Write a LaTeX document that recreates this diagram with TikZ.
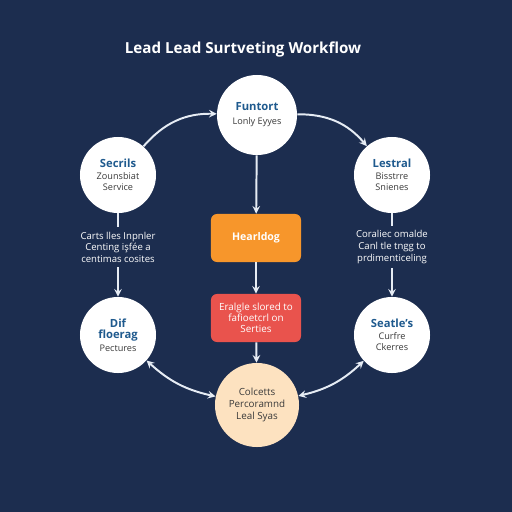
\documentclass[tikz,border=0pt]{standalone}
\usepackage{fontspec}
\setmainfont{Open Sans}
\usetikzlibrary{graphs}
\usetikzlibrary{quotes}

\definecolor{navy}{HTML}{1C2D4F}
\definecolor{headblue}{HTML}{1F5A8E}
\definecolor{textgray}{HTML}{3A3A3A}
\definecolor{flowgray}{HTML}{E6ECF4}
\definecolor{boxorange}{HTML}{F7962B}
\definecolor{boxred}{HTML}{E9534D}
\definecolor{peach}{HTML}{FDE2C0}

\tikzset{
  stage/.style={circle, fill=white, text=textgray, align=center,
    minimum size=1.9cm, inner sep=0pt, font=\fontsize{6.5}{8}\selectfont},
  stagebig/.style={stage, minimum size=2cm},
  stagegoal/.style={stage, fill=peach, minimum size=2.1cm,
    font=\fontsize{7}{8.6}\selectfont},
  taskbox/.style={rectangle, rounded corners=0.15cm, text=white, align=center,
    minimum width=2.25cm, minimum height=1.2cm, inner sep=1pt,
    font=\fontsize{7}{8}\selectfont},
  note/.style={text=white, align=center, font=\fontsize{6.8}{8.2}\selectfont},
  flow/.style={draw=flowgray, line width=1.4pt},
}
\newcommand{\stagehead}[1]{{\fontsize{8}{10}\selectfont\bfseries\color{headblue}#1}}

\begin{document}
\begin{tikzpicture}[x=0.025cm, y=-0.025cm, >=stealth]
  \fill[navy] (0,0) rectangle (512,512);
  \node[text=white, font=\fontsize{10.8}{13}\selectfont\bfseries] (title) at (243,50) {Lead Lead Surtveting Workflow};
  \node[stagebig] (fun) at (257,115) {\stagehead{Funtort}\\[2pt] Lonly Eyyes};
  \node[stage] (sec) at (118,175) {\stagehead{Secrils}\\ Zounsbiat\\ Service};
  \node[stage] (les) at (392,175) {\stagehead{Lestral}\\ Bisstrre\\ Snienes};
  \node[note] (ltxt) at (118,247) {Carts lles Inpnler\\ Centing işfée a\\ centimas cosites};
  \node[note] (rtxt) at (392,247) {Coraliec omalde\\ Canl tle tngg to\\ prdimenticeling};
  \node[taskbox, fill=boxorange, font=\fontsize{7.5}{9}\selectfont\bfseries] (head) at (256,238) {Hearldog};
  \node[taskbox, fill=boxred] (slot) at (256,318) {Eralgle slored to\\ fafioetcrl on\\ Serties};
  \node[stage] (dif) at (118,335) {\stagehead{Dif}\\ \stagehead{floerag}\\[1pt] Pectures};
  \node[stage] (sea) at (392,335) {\stagehead{Seatle's}\\ Curfre\\ Ckerres};
  \node[stagegoal] (col) at (257,405) {Colcetts\\ Percoramnd\\ Leal Syas};
  \graph[edges=flow]{(fun) -> (head)};
  \graph[edges=flow]{(head) -> (slot)};
  \graph[edges=flow]{(slot) -> (col)};
  \graph[edges=flow]{(sec) -- (ltxt)};
  \graph[edges=flow]{(ltxt) -> (dif)};
  \graph[edges=flow]{(les) -- (rtxt)};
  \graph[edges=flow]{(rtxt) -> (sea)};
  \graph[edges=flow]{(sec) ->[bend left=25] (fun)};
  \graph[edges=flow]{(fun) ->[bend left=25] (les)};
  \graph[edges=flow]{(dif) <->[bend right=15] (col)};
  \graph[edges=flow]{(sea) <->[bend left=15] (col)};
\end{tikzpicture}
\end{document}
